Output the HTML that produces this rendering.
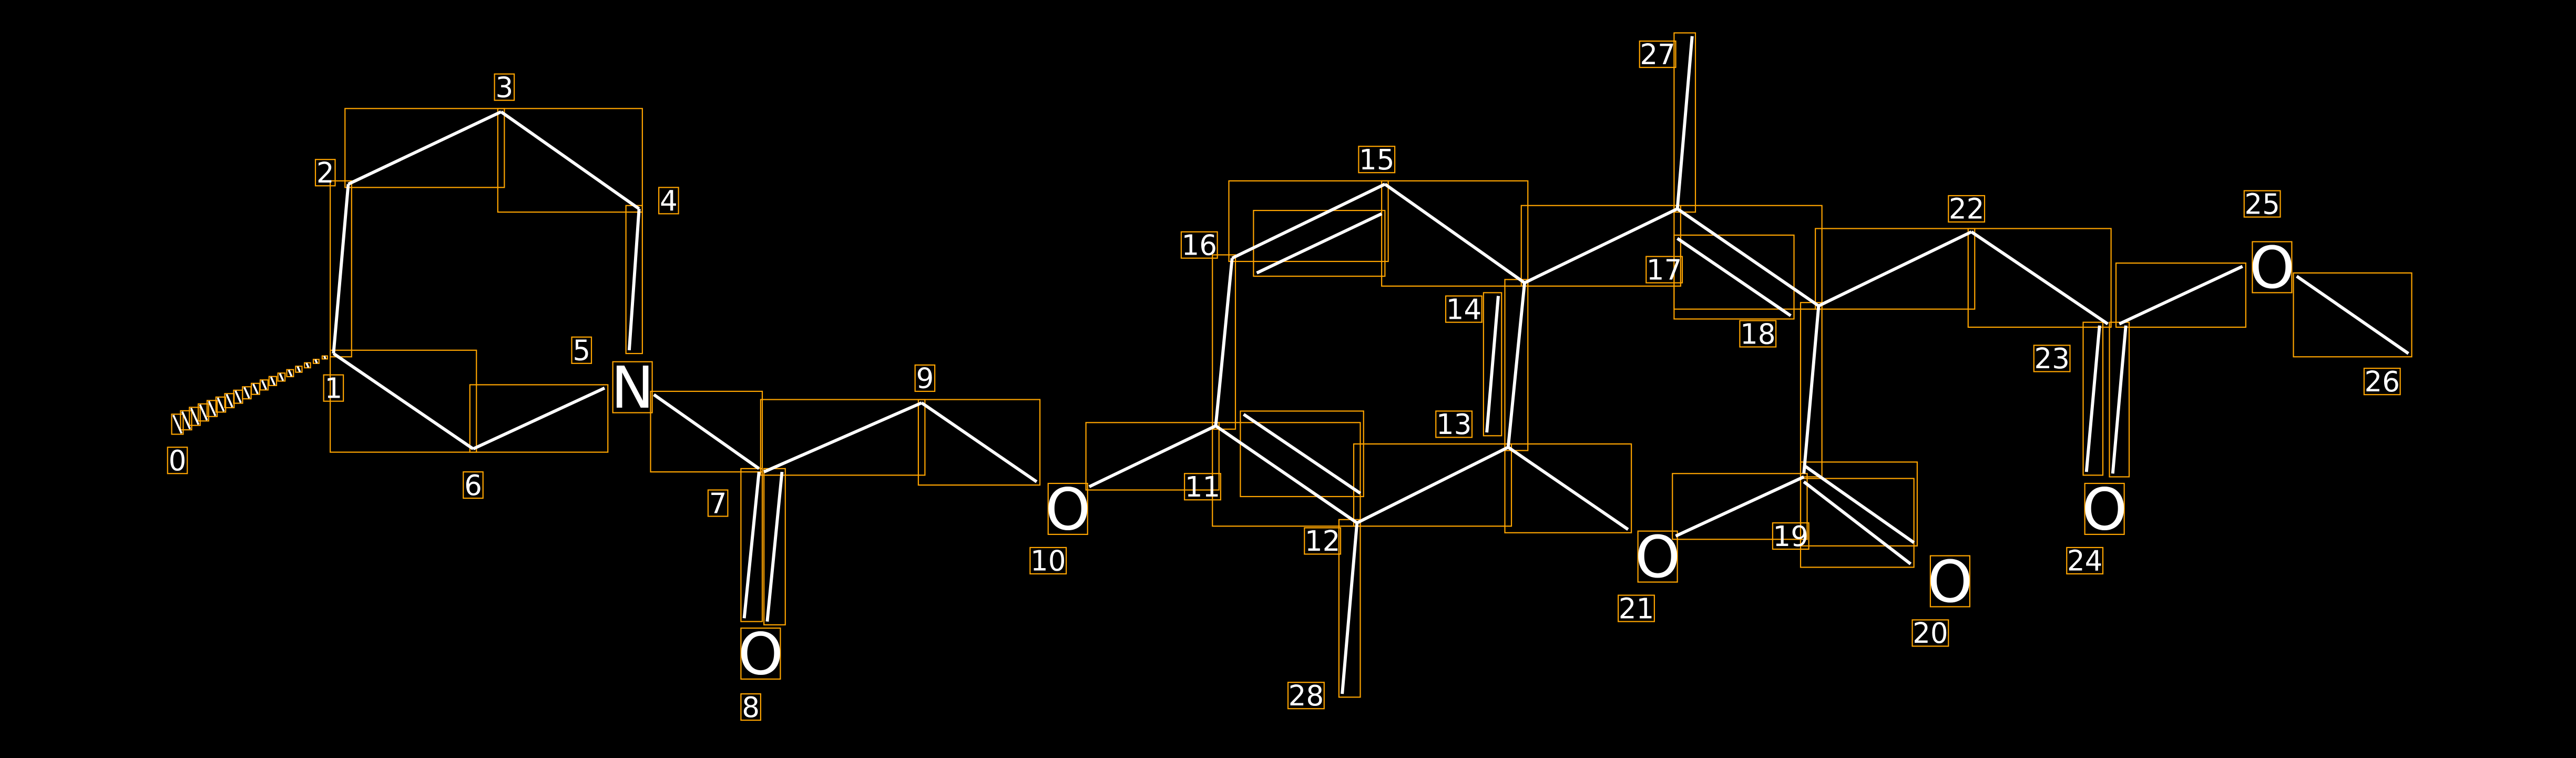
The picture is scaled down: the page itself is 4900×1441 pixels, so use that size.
<!DOCTYPE html>
<html><head><meta charset="utf-8"><style>
html,body{margin:0;padding:0;background:#000;}
svg{display:block}
text{font-family:"DejaVu Sans","Liberation Sans",sans-serif;fill:#fff;}
</style></head><body>
<svg id="s" width="4900" height="1441" viewBox="0 0 1568 461" preserveAspectRatio="none">
<rect width="1568" height="461" fill="#000"/>
<g id="o" fill="none" stroke="#ffa500" stroke-width="0.7"></g>
<g id="b" stroke="#fff" stroke-width="1.9" stroke-linecap="butt"></g>
<g id="t"></g>
</svg>
<script>
var NS="http://www.w3.org/2000/svg";
function el(p,n,a,txt){var e=document.createElementNS(NS,n);for(var k in a)e.setAttribute(k,a[k]);if(txt!==undefined)e.textContent=txt;document.getElementById(p).appendChild(e);return e;}
var L=[
[203,215,212,112],[212,112,305,68],[305,68,389,127],[389,127,383,213],
[203,215,288,273],[288,273,368,236],[398,240,462,285],
[453,376,462,287],[467,378,476,287],[465,287,561,245],[561,245,631,293],
[663,296,740,259],[740,259,750,157],[750,157,843,112],[765,166,841,130],
[843,112,928,172],[740,259,826,318],[757,252,828,300],[826,318,817,422],
[826,318,918,272],[918,272,928,172],[905,263,912,180],[928,172,1021,127],
[1021,127,1030,22],[1021,127,1107,186],[1021,145,1090,192],
[1107,186,1200,141],[1107,186,1098,288],[918,272,991,322],[1020,326,1098,290],
[1098,283,1165,330],[1098,293,1163,343],[1200,141,1283,197],
[1270,287,1278,198],[1286,288,1294,198],[1290,197,1365,162],[1398,168,1466,215]
];
L.forEach(function(l){
 el("b","line",{x1:l[0],y1:l[1],x2:l[2],y2:l[3]});
 var x=Math.min(l[0],l[2])-2,y=Math.min(l[1],l[3])-2,w=Math.abs(l[0]-l[2])+4,h=Math.abs(l[1]-l[3])+4;
 el("o","rect",{x:x,y:y,width:w,height:h});
});
var ax=203,ay=215,bx=108,by=258,dx=bx-ax,dy=by-ay,len=Math.hypot(dx,dy),px=-dy/len,py=dx/len;
for(var i=1;i<=18;i++){var t=i/18,cx=ax+dx*t,cy=ay+dy*t,h=0.6+t*5.5;
 el("b","line",{x1:cx-px*h,y1:cy-py*h,x2:cx+px*h,y2:cy+py*h,"stroke-width":1.2});
 el("o","rect",{x:cx-1.5-t*2,y:cy-h,width:3+t*4,height:2*h});}
var A=[["N",385,236],["O",463,398],["O",650,310],["O",1009,339],["O",1187,354],["O",1281,310],["O",1383,163]];
A.forEach(function(a){el("t","text",{x:a[1],y:a[2]+12,"font-size":35,"text-anchor":"middle"},a[0]);
 el("o","rect",{x:a[1]-12,y:a[2]-16,width:24,height:31});});
var N=[["0",108,280],["1",203,236],["2",198,105],["3",307,53],["4",407,122],["5",354,213],["6",288,295],["7",437,306],["8",457,430],["9",563,230],["10",638,341],["11",732,296],["12",805,329],["13",885,258],["14",891,188],["15",838,97],["16",730,149],["17",1013,164],["18",1070,203],["19",1090,326],["20",1175,385],["21",996,370],["22",1197,127],["23",1249,218],["24",1269,341],["25",1377,124],["26",1450,232],["27",1009,33],["28",795,423]];
N.forEach(function(n){el("t","text",{x:n[1],y:n[2]+6,"font-size":17,"text-anchor":"middle"},n[0]);
 var w=n[0].length*10+2;el("o","rect",{x:n[1]-w/2,y:n[2]-8,width:w,height:16});});
</script>
</body></html>
